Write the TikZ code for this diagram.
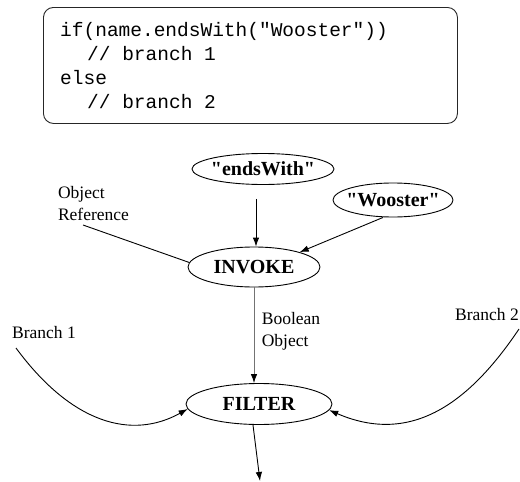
\documentclass[tikz,border=0pt]{standalone}
\usepackage{fontspec}
\setmainfont{Liberation Serif}[Ligatures=TeXOff]
\setmonofont{Liberation Mono}
\usetikzlibrary{shapes.geometric,arrows.meta}

\tikzset{
  wire/.style={line width=0.9pt, draw=black},
  arrowwire/.style={wire, -{Latex[length=9pt,width=6.5pt,color=black]}},
  oval/.style={draw, ellipse, line width=0.9pt, inner sep=0pt},
  ovaltext/.style={font=\fontsize{20}{24}\selectfont\bfseries},
  note/.style={font=\fontsize{17.5}{22}\selectfont, align=left, inner sep=0pt},
  codeline/.style={font=\fontsize{19.5}{24}\selectfont\ttfamily, anchor=base west, inner sep=0pt},
}

\begin{document}
\begin{tikzpicture}[x=1pt, y=-1pt]
  \useasboundingbox (0,0) rectangle (520,482);

  % source snippet
  \node[draw=black!85, line width=0.9pt, rounded corners=10pt, minimum width=414pt,
        minimum height=116pt, anchor=north west, inner sep=0pt] (code) at (43,7) {};
  \node[codeline] (c1) at (60,36)  {if(name.endsWith("Wooster"))};
  \node[codeline] (c2) at (87,60)  {// branch 1};
  \node[codeline] (c3) at (60,84)  {else};
  \node[codeline] (c4) at (87,108) {// branch 2};

  % operation graph
  \node[oval, minimum width=142pt, minimum height=31pt,
        label={[ovaltext]center:"endsWith"}] (ew) at (263,169) {};
  \node[oval, minimum width=120pt, minimum height=34pt,
        label={[ovaltext]center:"Wooster"}] (wo) at (393,200) {};
  \node[oval, minimum width=132pt, minimum height=40pt,
        label={[ovaltext]center:INVOKE}] (inv) at (254,267) {};
  \node[oval, minimum width=146pt, minimum height=41pt,
        label={[ovaltext]center:FILTER}] (fil) at (259,404) {};

  \node[note] (objref) at (93.5,204) {Object\\Reference};
  \node[note] (bool) at (291,331) {Boolean\\Object};
  \node[note] (br1) at (44,333) {Branch 1};
  \node[note, anchor=east] (br2) at (519,315) {Branch 2};

  \coordinate (objrefEnd) at (83,225);
  \coordinate (br1Start) at (16,348);
  \coordinate (br2Start) at (519,329);
  \coordinate (result) at (260,481);

  \draw[wire] (objrefEnd) -- (inv.176);
  \draw[arrowwire] ([xshift=-7pt,yshift=-14pt]ew.south) -- ([xshift=2pt]inv.north);
  \draw[arrowwire] ([xshift=-10pt]wo.south) -- (inv.18);
  \draw[arrowwire, draw=black!55] (inv.south) -- (inv.south |- fil.north);
  \draw[arrowwire] (br1Start) .. controls (72,424) and (132,440) .. (fil.184);
  \draw[arrowwire] (br2Start) .. controls (470,402) and (412,446) .. (fil.-5);
  \draw[arrowwire] ([xshift=-6pt]fil.south) -- (result);
\end{tikzpicture}
\end{document}
